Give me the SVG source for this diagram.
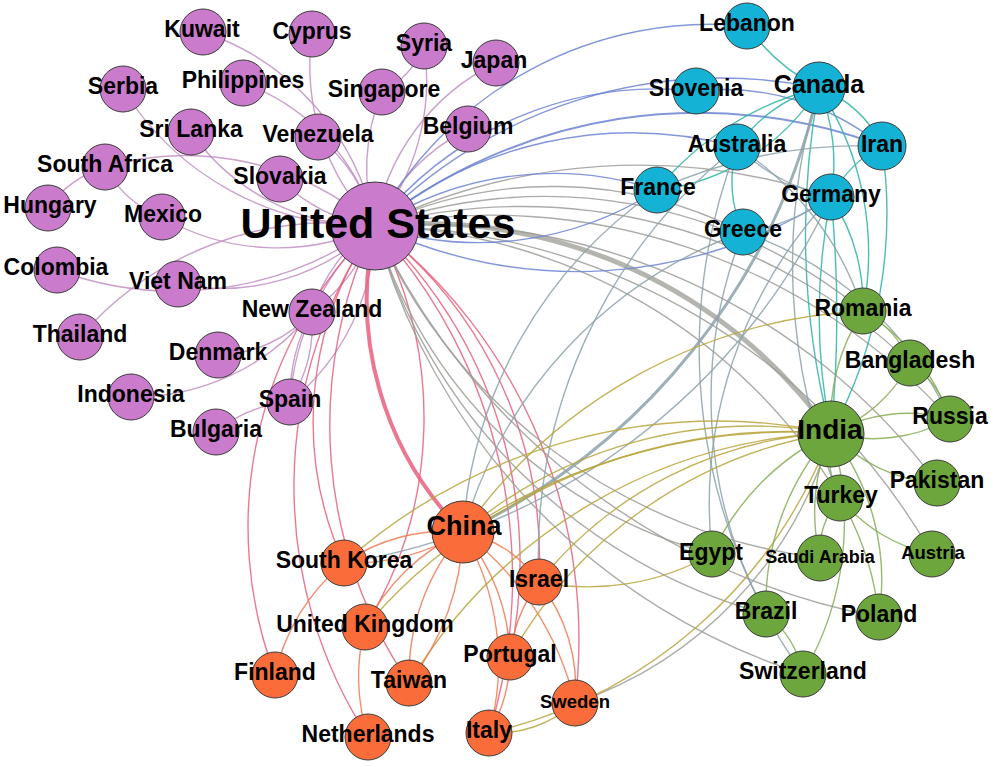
<svg xmlns="http://www.w3.org/2000/svg" width="991" height="766" viewBox="0 0 991 766">
<style>
.e{fill:none;stroke-width:1.4;stroke-opacity:.85}
.p{stroke:#c28fc2}.r{stroke:#e6607e}.b{stroke:#6f84d4}.g{stroke:#9c9c98}.t{stroke:#2db3a4}
.o{stroke:#b9a43c}.gr{stroke:#86ad55}.or{stroke:#f07a52}.cg{stroke:#8da2aa}
.n{stroke:#3a3a3a;stroke-width:1}
.pu{fill:#cb7bcb}.cy{fill:#14b3d5}.gn{fill:#6ca63d}.og{fill:#fa6d3b}
text{font-family:"Liberation Sans",Arial,sans-serif;font-weight:bold;fill:#000;text-anchor:middle;font-size:23px}
text.s42{font-size:43px}text.s28{font-size:28px}text.s26{font-size:27px}text.s25{font-size:25px}text.s18{font-size:18.5px}text.s17{font-size:18px}
</style>
<rect width="991" height="766" fill="#fff"/>
<g id="edges">
<g class="e p">
<path d="M203 32 A260 260 0 0 1 375 226"/>
<path d="M312 34 A230 230 0 0 0 375 226"/>
<path d="M243 83 A210 210 0 0 1 375 226"/>
<path d="M123 89 A290 290 0 0 0 375 226"/>
<path d="M191 132 A220 220 0 0 0 375 226"/>
<path d="M105 167 A290 290 0 0 1 375 226"/>
<path d="M48 208 A110 110 0 0 1 105 167"/>
<path d="M105 167 A110 110 0 0 0 162 217"/>
<path d="M162 217 A230 230 0 0 0 375 226"/>
<path d="M280 179 A160 160 0 0 0 375 226"/>
<path d="M318 137 A160 160 0 0 1 375 226"/>
<path d="M424 46 A90 90 0 0 1 382 92"/>
<path d="M382 92 A200 200 0 0 0 375 226"/>
<path d="M424 46 A230 230 0 0 1 375 226"/>
<path d="M496 63 A220 220 0 0 0 375 226"/>
<path d="M468 129 A200 200 0 0 0 375 226"/>
<path d="M57 270 A340 340 0 0 0 375 226"/>
<path d="M178 284 A220 220 0 0 0 375 226"/>
<path d="M80 337 A330 330 0 0 1 375 226"/>
<path d="M218 355 A130 130 0 0 0 312 312"/>
<path d="M131 397 A230 230 0 0 0 312 312"/>
<path d="M290 402 A150 150 0 0 0 312 312"/>
<path d="M290 402 A180 180 0 0 1 312 312"/>
<path d="M216 432 A130 130 0 0 1 290 402"/>
<path d="M312 312 A160 160 0 0 1 375 226"/>
<path d="M312 312 A180 180 0 0 0 375 226"/>
<path d="M290 402 A230 230 0 0 0 375 226"/>
<path d="M290 402 A260 260 0 0 1 375 226"/>
</g>
<g class="e r">
<path d="M375 226 A420 420 0 0 0 275 675"/>
<path d="M375 226 A460 460 0 0 0 368 737"/>
<path d="M375 226 A340 340 0 0 0 344 563"/>
<path d="M375 226 A400 400 0 0 1 365 627"/>
<path d="M375 226 A460 460 0 0 0 409 683"/>
<path d="M375 226 A330 330 0 0 0 463 532" stroke-width="4"/>
<path d="M375 226 A460 460 0 0 1 510 657"/>
<path d="M375 226 A420 420 0 0 1 539 582"/>
<path d="M375 226 A520 520 0 0 1 575 703"/>
<path d="M375 226 A520 520 0 0 1 489 733"/>
</g>
<g class="e g">
<path d="M375 226 A500 500 0 0 1 831 433" stroke-width="5" stroke="#a8a8a2"/>
<path d="M375 226 A500 500 0 0 1 863 311"/>
<path d="M375 226 A560 560 0 0 1 910 363"/>
<path d="M375 226 A620 620 0 0 1 950 419"/>
<path d="M375 226 A640 640 0 0 1 937 483"/>
<path d="M375 226 A560 560 0 0 1 840 498"/>
<path d="M375 226 A650 650 0 0 1 932 554"/>
<path d="M375 226 A700 700 0 0 0 879 617"/>
<path d="M375 226 A480 480 0 0 0 712 554"/>
<path d="M375 226 A560 560 0 0 0 820 558"/>
<path d="M375 226 A560 560 0 0 0 766 614"/>
<path d="M375 226 A650 650 0 0 0 803 674"/>
<path d="M375 226 A600 600 0 0 1 831 197"/>
<path d="M375 226 A420 420 0 0 1 743 232"/>
<path d="M575 703 A400 400 0 0 0 831 433"/>
</g>
<g class="e b">
<path d="M375 226 A380 380 0 0 1 747 26"/>
<path d="M375 226 A360 360 0 0 1 696 91"/>
<path d="M375 226 A520 520 0 0 1 882 146" stroke-width="2"/>
<path d="M375 226 A480 480 0 0 1 819 88"/>
<path d="M375 226 A400 400 0 0 1 737 147"/>
<path d="M375 226 A330 330 0 0 1 657 190"/>
<path d="M375 226 A330 330 0 0 0 657 190"/>
<path d="M375 226 A470 470 0 0 0 831 197"/>
<path d="M696 91 A250 250 0 0 1 882 146"/>
</g>
<g class="e t">
<path d="M747 26 A200 200 0 0 0 819 88"/>
<path d="M819 88 A110 110 0 0 1 882 146"/>
<path d="M819 88 A150 150 0 0 0 737 147"/>
<path d="M657 190 A220 220 0 0 0 819 88"/>
<path d="M657 190 A300 300 0 0 1 819 88"/>
<path d="M737 147 A120 120 0 0 0 743 232"/>
<path d="M819 88 A200 200 0 0 1 831 197"/>
<path d="M882 146 A120 120 0 0 0 831 197"/>
<path d="M819 88 A800 800 0 0 0 831 433"/>
<path d="M882 146 A460 460 0 0 1 831 433"/>
<path d="M831 197 A1200 1200 0 0 1 831 433"/>
<path d="M831 197 A600 600 0 0 0 831 433"/>
<path d="M831 197 A200 200 0 0 1 863 311"/>
<path d="M819 88 A300 300 0 0 1 863 311"/>
</g>
<g class="e cg">
<path d="M819 88 A650 650 0 0 1 463 532" stroke-width="3"/>
<path d="M743 232 A450 450 0 0 0 463 532"/>
<path d="M657 190 A450 450 0 0 0 463 532"/>
<path d="M737 147 A520 520 0 0 0 539 582"/>
<path d="M831 197 A650 650 0 0 1 344 563"/>
<path d="M819 88 A600 600 0 0 0 840 498"/>
<path d="M831 197 A450 450 0 0 0 712 554"/>
<path d="M743 232 A350 350 0 0 1 950 419"/>
<path d="M743 232 A450 450 0 0 0 766 614"/>
<path d="M737 147 A560 560 0 0 0 803 674"/>
<path d="M882 146 A500 500 0 0 0 657 190"/>
<path d="M737 147 A200 200 0 0 0 831 197"/>
<path d="M831 197 A200 200 0 0 1 743 232"/>
<path d="M737 147 A300 300 0 0 1 863 311"/>
</g>
<g class="e o">
<path d="M463 532 A450 450 0 0 1 831 433"/>
<path d="M463 532 A600 600 0 0 1 831 433"/>
<path d="M344 563 A560 560 0 0 1 831 433"/>
<path d="M365 627 A560 560 0 0 1 831 433"/>
<path d="M409 683 A520 520 0 0 1 831 433"/>
<path d="M510 657 A450 450 0 0 1 831 433"/>
<path d="M539 582 A400 400 0 0 1 831 433"/>
<path d="M489 733 A480 480 0 0 0 831 433"/>
<path d="M463 532 A520 520 0 0 1 863 311"/>
<path d="M539 582 A250 250 0 0 0 712 554"/>
<path d="M489 733 A120 120 0 0 0 575 703"/>
</g>
<g class="e gr">
<path d="M831 433 A200 200 0 0 1 863 311"/>
<path d="M863 311 A100 100 0 0 1 910 363"/>
<path d="M831 433 A150 150 0 0 0 910 363"/>
<path d="M910 363 A100 100 0 0 1 950 419"/>
<path d="M831 433 A160 160 0 0 1 950 419"/>
<path d="M831 433 A160 160 0 0 0 950 419"/>
<path d="M863 311 A200 200 0 0 1 950 419"/>
<path d="M831 433 A160 160 0 0 0 937 483"/>
<path d="M831 433 A100 100 0 0 0 840 498"/>
<path d="M840 498 A160 160 0 0 0 932 554"/>
<path d="M840 498 A300 300 0 0 1 879 617"/>
<path d="M831 433 A240 240 0 0 1 879 617"/>
<path d="M831 433 A200 200 0 0 0 820 558"/>
<path d="M831 433 A260 260 0 0 0 766 614"/>
<path d="M831 433 A300 300 0 0 1 803 674"/>
<path d="M831 433 A250 250 0 0 0 712 554"/>
<path d="M766 614 A100 100 0 0 1 803 674"/>
<path d="M840 498 A80 80 0 0 0 820 558"/>
</g>
<g class="e or">
<path d="M463 532 A180 180 0 0 0 344 563"/>
<path d="M463 532 A220 220 0 0 1 344 563"/>
<path d="M463 532 A200 200 0 0 0 365 627"/>
<path d="M463 532 A220 220 0 0 0 409 683"/>
<path d="M463 532 A260 260 0 0 1 409 683"/>
<path d="M463 532 A200 200 0 0 1 510 657"/>
<path d="M463 532 A120 120 0 0 1 539 582"/>
<path d="M463 532 A260 260 0 0 1 489 733"/>
<path d="M344 563 A200 200 0 0 0 275 675"/>
<path d="M365 627 A200 200 0 0 0 368 737"/>
<path d="M510 657 A150 150 0 0 1 489 733"/>
<path d="M539 582 A170 170 0 0 1 575 703"/>
<path d="M539 582 A150 150 0 0 0 510 657"/>
<path d="M463 532 A300 300 0 0 1 575 703"/>
</g>
</g>
<g id="n-united-states"><circle class="n pu" cx="375" cy="226" r="44"/><text class="s42" x="378" y="238">United States</text></g>
<g id="n-kuwait"><circle class="n pu" cx="203" cy="32" r="23"/><text x="202" y="37">Kuwait</text></g>
<g id="n-cyprus"><circle class="n pu" cx="312" cy="34" r="23"/><text x="312" y="39">Cyprus</text></g>
<g id="n-serbia"><circle class="n pu" cx="123" cy="89" r="23"/><text x="123" y="94">Serbia</text></g>
<g id="n-philippines"><circle class="n pu" cx="243" cy="83" r="23"/><text x="243" y="88">Philippines</text></g>
<g id="n-sri-lanka"><circle class="n pu" cx="191" cy="132" r="23"/><text x="191" y="137">Sri Lanka</text></g>
<g id="n-venezuela"><circle class="n pu" cx="318" cy="137" r="23"/><text x="318" y="142">Venezuela</text></g>
<g id="n-south-africa"><circle class="n pu" cx="105" cy="167" r="23"/><text x="105" y="172">South Africa</text></g>
<g id="n-slovakia"><circle class="n pu" cx="280" cy="179" r="23"/><text x="280" y="184">Slovakia</text></g>
<g id="n-hungary"><circle class="n pu" cx="48" cy="208" r="23"/><text x="50" y="213">Hungary</text></g>
<g id="n-mexico"><circle class="n pu" cx="162" cy="217" r="23"/><text x="163" y="222">Mexico</text></g>
<g id="n-syria"><circle class="n pu" cx="424" cy="46" r="23"/><text x="424" y="51">Syria</text></g>
<g id="n-japan"><circle class="n pu" cx="496" cy="63" r="23"/><text x="494" y="68">Japan</text></g>
<g id="n-singapore"><circle class="n pu" cx="382" cy="92" r="23"/><text x="384" y="97">Singapore</text></g>
<g id="n-belgium"><circle class="n pu" cx="468" cy="129" r="23"/><text x="468" y="134">Belgium</text></g>
<g id="n-colombia"><circle class="n pu" cx="57" cy="270" r="23"/><text x="56" y="275">Colombia</text></g>
<g id="n-viet-nam"><circle class="n pu" cx="178" cy="284" r="23"/><text x="178" y="289">Viet Nam</text></g>
<g id="n-new-zealand"><circle class="n pu" cx="312" cy="312" r="23"/><text x="312" y="317">New Zealand</text></g>
<g id="n-thailand"><circle class="n pu" cx="80" cy="337" r="23"/><text x="80" y="342">Thailand</text></g>
<g id="n-denmark"><circle class="n pu" cx="218" cy="355" r="23"/><text x="218" y="360">Denmark</text></g>
<g id="n-indonesia"><circle class="n pu" cx="131" cy="397" r="23"/><text x="131" y="402">Indonesia</text></g>
<g id="n-spain"><circle class="n pu" cx="290" cy="402" r="23"/><text x="290" y="407">Spain</text></g>
<g id="n-bulgaria"><circle class="n pu" cx="216" cy="432" r="23"/><text x="216" y="437">Bulgaria</text></g>
<g id="n-lebanon"><circle class="n cy" cx="747" cy="26" r="23"/><text x="747" y="31">Lebanon</text></g>
<g id="n-canada"><circle class="n cy" cx="819" cy="88" r="26"/><text class="s25" x="819" y="93">Canada</text></g>
<g id="n-slovenia"><circle class="n cy" cx="696" cy="91" r="23"/><text x="696" y="96">Slovenia</text></g>
<g id="n-australia"><circle class="n cy" cx="737" cy="147" r="23"/><text x="737" y="152">Australia</text></g>
<g id="n-iran"><circle class="n cy" cx="882" cy="146" r="24"/><text x="882" y="152">Iran</text></g>
<g id="n-france"><circle class="n cy" cx="657" cy="190" r="23"/><text x="658" y="195">France</text></g>
<g id="n-germany"><circle class="n cy" cx="831" cy="197" r="23"/><text x="831" y="202">Germany</text></g>
<g id="n-greece"><circle class="n cy" cx="743" cy="232" r="23"/><text x="743" y="237">Greece</text></g>
<g id="n-romania"><circle class="n gn" cx="863" cy="311" r="23"/><text x="863" y="316">Romania</text></g>
<g id="n-bangladesh"><circle class="n gn" cx="910" cy="363" r="23"/><text x="910" y="368">Bangladesh</text></g>
<g id="n-india"><circle class="n gn" cx="831" cy="434" r="33"/><text class="s28" x="830" y="439">India</text></g>
<g id="n-russia"><circle class="n gn" cx="950" cy="419" r="23"/><text x="950" y="424">Russia</text></g>
<g id="n-pakistan"><circle class="n gn" cx="937" cy="483" r="23"/><text x="937" y="488">Pakistan</text></g>
<g id="n-turkey"><circle class="n gn" cx="840" cy="498" r="23"/><text x="841" y="503">Turkey</text></g>
<g id="n-egypt"><circle class="n gn" cx="712" cy="554" r="23"/><text x="711" y="560">Egypt</text></g>
<g id="n-saudi-arabia"><circle class="n gn" cx="820" cy="558" r="23"/><text class="s17" x="820" y="563">Saudi Arabia</text></g>
<g id="n-austria"><circle class="n gn" cx="932" cy="554" r="23"/><text class="s18" x="933" y="559">Austria</text></g>
<g id="n-brazil"><circle class="n gn" cx="766" cy="614" r="23"/><text x="766" y="619">Brazil</text></g>
<g id="n-poland"><circle class="n gn" cx="879" cy="617" r="23"/><text x="879" y="622">Poland</text></g>
<g id="n-switzerland"><circle class="n gn" cx="803" cy="674" r="23"/><text x="803" y="679">Switzerland</text></g>
<g id="n-china"><circle class="n og" cx="463" cy="532" r="31"/><text class="s26" x="464" y="535">China</text></g>
<g id="n-south-korea"><circle class="n og" cx="344" cy="563" r="23"/><text x="344" y="568">South Korea</text></g>
<g id="n-israel"><circle class="n og" cx="539" cy="582" r="23"/><text x="539" y="587">Israel</text></g>
<g id="n-united-kingdom"><circle class="n og" cx="365" cy="627" r="23"/><text x="365" y="632">United Kingdom</text></g>
<g id="n-finland"><circle class="n og" cx="275" cy="675" r="23"/><text x="275" y="680">Finland</text></g>
<g id="n-taiwan"><circle class="n og" cx="409" cy="683" r="23"/><text x="409" y="688">Taiwan</text></g>
<g id="n-portugal"><circle class="n og" cx="510" cy="657" r="23"/><text x="510" y="662">Portugal</text></g>
<g id="n-sweden"><circle class="n og" cx="575" cy="703" r="23"/><text class="s18" x="575" y="708">Sweden</text></g>
<g id="n-netherlands"><circle class="n og" cx="368" cy="737" r="23"/><text x="368" y="742">Netherlands</text></g>
<g id="n-italy"><circle class="n og" cx="489" cy="733" r="23"/><text x="489" y="738">Italy</text></g>
</svg>
